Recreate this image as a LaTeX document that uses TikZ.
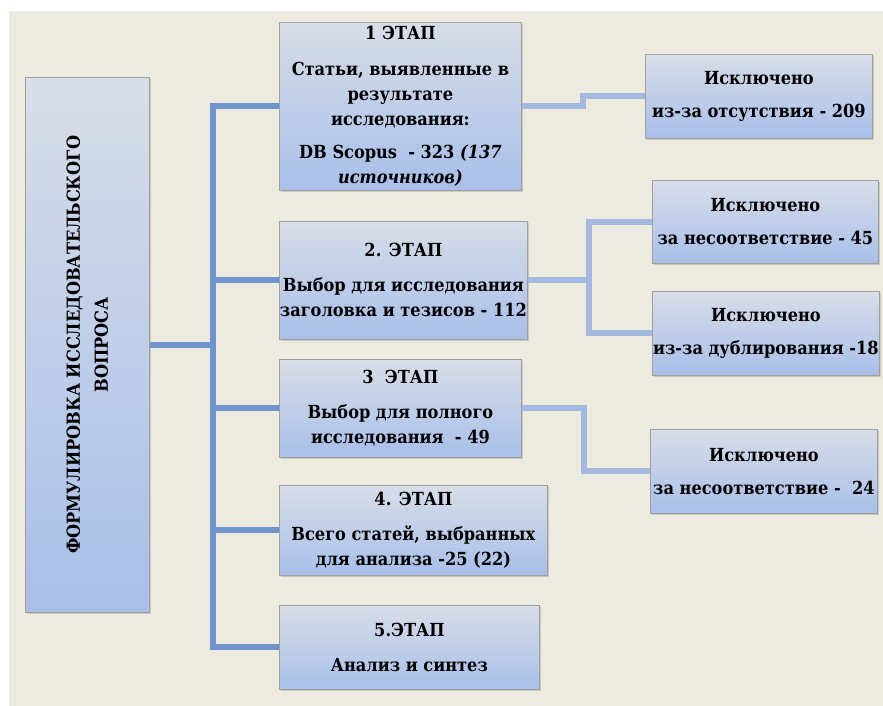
\documentclass[tikz,border=0pt]{standalone}
\usepackage{fontspec}
\setmainfont{DejaVu Serif Condensed}
\usepackage{tikz}
\usetikzlibrary{shadows}

\definecolor{panel}{HTML}{EDEAE0}
\definecolor{boxtop}{HTML}{D8DDE8}
\definecolor{boxbot}{HTML}{A8BFE9}
\definecolor{mainblue}{HTML}{7193CB}
\definecolor{lightblue}{HTML}{A5B9DE}

\begin{document}
\begin{tikzpicture}[x=1pt,y=-1pt,
			every node/.style={font=\bfseries\fontsize{18}{25}\selectfont,align=center,inner sep=0pt},
			stagebox/.style={draw=gray!75,line width=0.8pt,top color=boxtop,bottom color=boxbot,anchor=north west,
				drop shadow={shadow xshift=2pt,shadow yshift=-2pt,opacity=0.3}},
			mainline/.style={draw=mainblue,line width=6pt},
			sideline/.style={draw=lightblue,line width=6pt}]
			\useasboundingbox (0,0) rectangle (883,706);
			\fill[white] (0,0) rectangle (883,706);
			\fill[panel] (9,11) rectangle (883,706);
			
			\node[stagebox,minimum width=124,minimum height=535] (q) at (25,77) {};
			\node[rotate=90,font=\bfseries\fontsize{18}{28}\selectfont] (qtext) at (q.center)
				{ФОРМУЛИРОВКА ИССЛЕДОВАТЕЛЬСКОГО\\ВОПРОСА};
			
			\node[stagebox,minimum width=242,minimum height=168] (s1) at (279,22)
				{1 ЭТАП\\[11pt]Статьи, выявленные в\\результате\\исследования:\\[8pt]DB Scopus~ - 323 \textit{(137}\\\textit{источников)}};
			\node[stagebox,minimum width=248,minimum height=118] (s2) at (279,221)
				{2. ЭТАП\\[10pt]Выбор для исследования\\заголовка и тезисов - 112};
			\node[stagebox,minimum width=242,minimum height=98] (s3) at (279,359)
				{3~ ЭТАП\\[10pt]Выбор для полного\\исследования~ - 49};
			\node[stagebox,minimum width=268,minimum height=90] (s4) at (279,485)
				{4. ЭТАП\\[10pt]Всего статей, выбранных\\для анализа -25 (22)};
			\node[stagebox,minimum width=260,minimum height=84] (s5) at (279,605)
				{5.ЭТАП\\[10pt]Анализ и синтез};
			
			\node[stagebox,minimum width=227,minimum height=84] (e1) at (645,54)
				{Исключено\\[8pt]из-за отсутствия - 209};
			\node[stagebox,minimum width=226,minimum height=83] (e2) at (652,180)
				{Исключено\\[8pt]за несоответствие - 45};
			\node[stagebox,minimum width=227,minimum height=84] (e3) at (652,291)
				{Исключено\\[8pt]из-за дублирования -18};
			\node[stagebox,minimum width=227,minimum height=84] (e4) at (650,429)
				{Исключено\\[8pt]за несоответствие -~ 24};
			
			\coordinate (bus) at (213,0);
			\coordinate (k1) at (583,0);
			\coordinate (k2) at (589,0);
			\coordinate (k3) at (584,0);
			
			\draw[mainline] (q.east) -- (q.east -| bus);
			\draw[mainline] (s1.west) -- (s1.west -| bus) -- (s5.west -| bus) -- (s5.west);
			\foreach \s in {s2,s3,s4}
				\draw[mainline] (\s.west -| bus) -- (\s.west);
			
			\draw[sideline] (s1.east) -- (s1.east -| k1) -- (e1.west -| k1) -- (e1.west);
			\draw[sideline] (s2.east) -- (s2.east -| k2);
			\draw[sideline] (e2.west) -- (e2.west -| k2) -- (e3.west -| k2) -- (e3.west);
			\draw[sideline] (s3.east) -- (s3.east -| k3) -- (e4.west -| k3) -- (e4.west);
		\end{tikzpicture}
\end{document}
